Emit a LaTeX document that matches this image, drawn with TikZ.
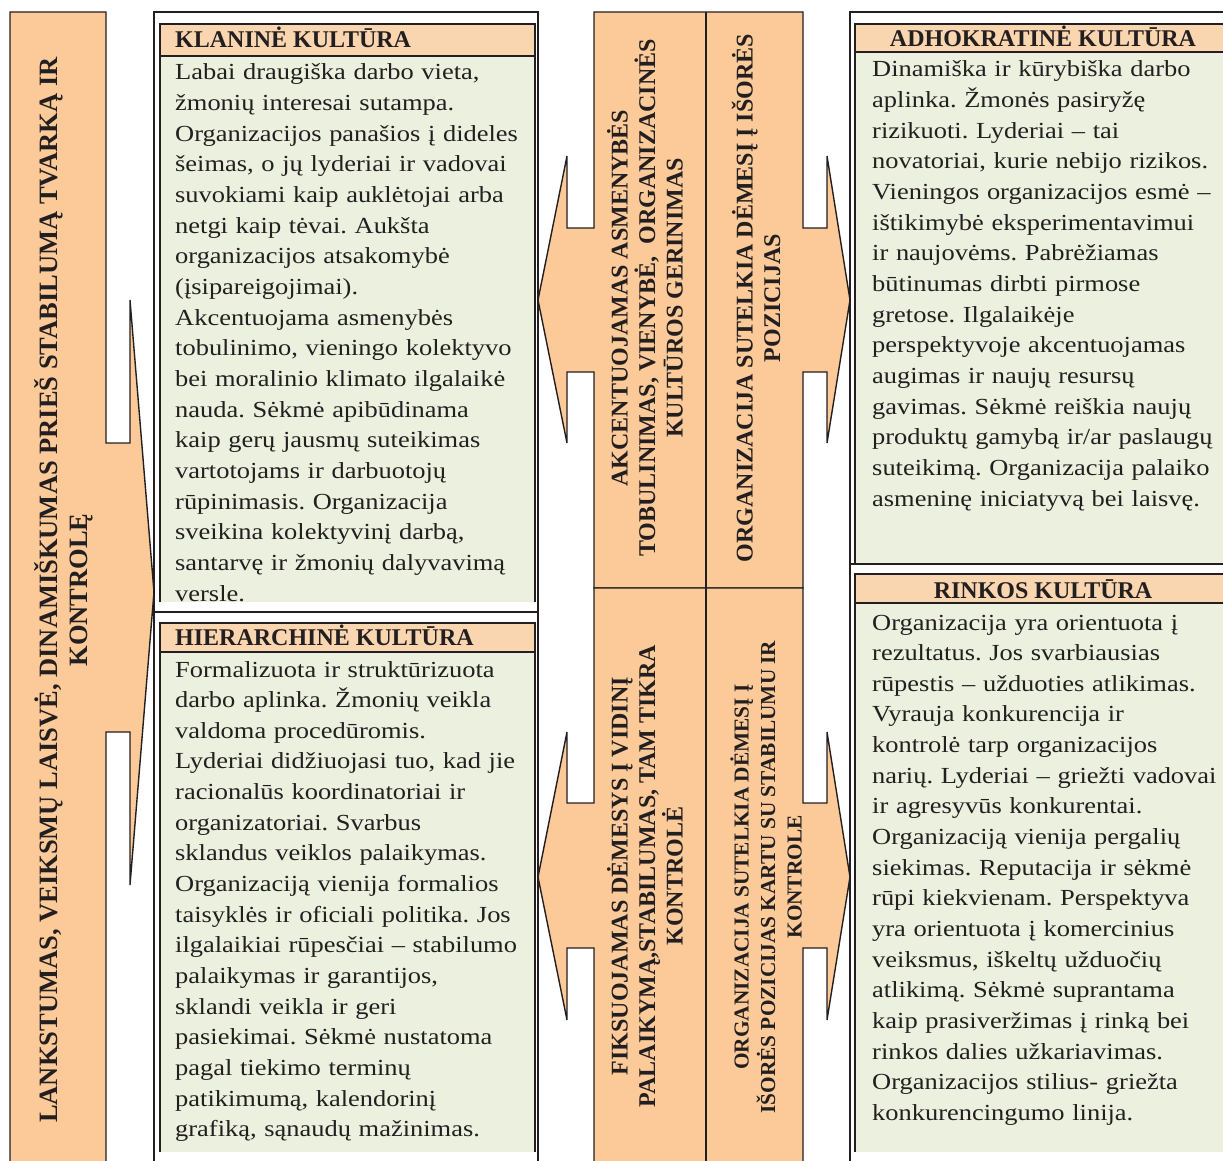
\documentclass[tikz,border=0pt]{standalone}
\usepackage{fontspec}
\setmainfont{Liberation Serif}
\newfontfamily\bodyfont{Liberation Serif}[FakeStretch=1.15]
\frenchspacing
\definecolor{peach}{RGB}{252,202,153}
\definecolor{headfill}{RGB}{250,214,176}
\definecolor{bodyfill}{RGB}{235,241,222}
\definecolor{ink}{RGB}{35,31,32}
\tikzset{
  arrowshape/.style={fill=peach, draw=ink, line width=1.4pt, line join=miter},
  outerframe/.style={draw=ink, line width=1.4pt},
  innerframe/.style={draw=ink, line width=2.4pt},
  bodytext/.style={font=\bodyfont\fontsize{23}{30.65}\selectfont, text=ink, inner sep=0pt,
                   align=left, anchor=base west, text width=370pt},
  headtext/.style={font=\bfseries\fontsize{24}{28}\selectfont, text=ink, inner sep=0pt},
  sidetext/.style={font=\bfseries\fontsize{24}{27.5}\selectfont, text=ink, inner sep=0pt,
                   align=center, rotate=90},
}
\begin{document}
\begin{tikzpicture}[x=1pt,y=-1pt]
\useasboundingbox (0,0) rectangle (1223,1161);
\begin{scope}
\clip (0,0) rectangle (1223,1161);

% left column: arrow pointing right
\draw[arrowshape] (10,12) -- (106,12) -- (106,443) -- (130,443) -- (130,300) -- (154,592)
  -- (130,885) -- (130,732) -- (106,732) -- (106,1180) -- (10,1180) -- cycle;

% centre: two double-headed arrows
\draw[arrowshape] (594,12) -- (803,12) -- (803,228) -- (827,228) -- (827,156) -- (850,300)
  -- (827,443) -- (827,372) -- (803,372) -- (803,588) -- (594,588) -- (594,372) -- (567,372)
  -- (567,443) -- (538,300) -- (567,156) -- (567,228) -- (594,228) -- cycle;
\draw[arrowshape] (594,588) -- (803,588) -- (803,803) -- (827,803) -- (827,732) -- (850,877)
  -- (827,1020) -- (827,948) -- (803,948) -- (803,1180) -- (594,1180) -- (594,948) -- (567,948)
  -- (567,1020) -- (538,877) -- (567,732) -- (567,803) -- (594,803) -- cycle;
\draw[outerframe] (706,12) -- (706,1180);

% left boxes
\fill[bodyfill] (160,56) rectangle (535,602);
\fill[headfill] (160,24) rectangle (535,56);
\draw[innerframe] (160,602) -- (160,24) -- (535,24) -- (535,602);
\draw[innerframe] (160,56) -- (535,56);
\fill[bodyfill] (160,652) rectangle (535,1152);
\fill[headfill] (160,623) rectangle (535,652);
\draw[innerframe] (160,1152) -- (160,623) -- (535,623) -- (535,1152);
\draw[innerframe] (160,652) -- (535,652);
\draw[outerframe] (154,1180) -- (154,12) -- (538,12) -- (538,1180);
\draw[outerframe] (154,612) -- (538,612);

% right boxes
\fill[bodyfill] (855,52) rectangle (1240,563);
\fill[headfill] (855,24) rectangle (1240,52);
\draw[innerframe] (855,563) -- (855,24) -- (1240,24);
\draw[innerframe] (855,52) -- (1240,52);
\fill[bodyfill] (855,603) rectangle (1240,1152);
\fill[headfill] (855,574) rectangle (1240,603);
\draw[innerframe] (855,1152) -- (855,574) -- (1240,574);
\draw[innerframe] (855,603) -- (1240,603);
\draw[outerframe] (850,1180) -- (850,12) -- (1240,12);
\draw[innerframe] (850,564) -- (1240,564);
\end{scope}

% vertical captions
\node[sidetext, font=\bfseries\fontsize{26.5}{30}\selectfont] (lcol) at (64,590)
  {LANKSTUMAS, VEIKSMŲ LAISVĖ, DINAMIŠKUMAS PRIEŠ STABILUMĄ TVARKĄ IR\\KONTROLĘ};
\node[sidetext] (cul) at (645,298)
  {AKCENTUOJAMAS ASMENYBĖS\\TOBULINIMAS, VIENYBĖ,\ \ ORGANIZACINĖS\\KULTŪROS GERINIMAS};
\node[sidetext] (cur) at (756,298)
  {ORGANIZACIJA SUTELKIA DĖMESĮ Į IŠORĖS\\POZICIJAS};
\node[sidetext] (cll) at (645,876)
  {FIKSUOJAMAS DĖMESYS Į VIDINĮ\\PALAIKYMĄ,STABILUMAS, TAM TIKRA\\KONTROLĖ};
\node[sidetext, font=\bfseries\fontsize{21.3}{26.5}\selectfont] (clr) at (766,877)
  {ORGANIZACIJA SUTELKIA DĖMESĮ Į\\IŠORĖS POZICIJAS KARTU SU STABILUMU IR\\KONTROLE};

% headings
\node[headtext, anchor=base west] (klhead) at (175,48) {KLANINĖ KULTŪRA};
\node[headtext, anchor=base west] (hihead) at (175,645) {HIERARCHINĖ KULTŪRA};
\node[headtext, anchor=base] (adhead) at (1043,47) {ADHOKRATINĖ KULTŪRA};
\node[headtext, anchor=base] (rihead) at (1043,598) {RINKOS KULTŪRA};

% body texts
\node[bodytext] (klbody) at (175,80) {Labai draugiška darbo vieta,\\
žmonių interesai sutampa.\\
Organizacijos panašios į dideles\\
šeimas, o jų lyderiai ir vadovai\\
suvokiami kaip auklėtojai arba\\
netgi kaip tėvai. Aukšta\\
organizacijos atsakomybė\\
(įsipareigojimai).\\
Akcentuojama asmenybės\\
tobulinimo, vieningo kolektyvo\\
bei moralinio klimato ilgalaikė\\
nauda. Sėkmė apibūdinama\\
kaip gerų jausmų suteikimas\\
vartotojams ir darbuotojų\\
rūpinimasis. Organizacija\\
sveikina kolektyvinį darbą,\\
santarvę ir žmonių dalyvavimą\\
versle.};

\node[bodytext] (hibody) at (175,677) {Formalizuota ir struktūrizuota\\
darbo aplinka. Žmonių veikla\\
valdoma procedūromis.\\
Lyderiai didžiuojasi tuo, kad jie\\
racionalūs koordinatoriai ir\\
organizatoriai. Svarbus\\
sklandus veiklos palaikymas.\\
Organizaciją vienija formalios\\
taisyklės ir oficiali politika. Jos\\
ilgalaikiai rūpesčiai – stabilumo\\
palaikymas ir garantijos,\\
sklandi veikla ir geri\\
pasiekimai. Sėkmė nustatoma\\
pagal tiekimo terminų\\
patikimumą, kalendorinį\\
grafiką, sąnaudų mažinimas.};

\node[bodytext] (adbody) at (872,77) {Dinamiška ir kūrybiška darbo\\
aplinka. Žmonės pasiryžę\\
rizikuoti. Lyderiai – tai\\
novatoriai, kurie nebijo rizikos.\\
Vieningos organizacijos esmė –\\
ištikimybė eksperimentavimui\\
ir naujovėms. Pabrėžiamas\\
būtinumas dirbti pirmose\\
gretose. Ilgalaikėje\\
perspektyvoje akcentuojamas\\
augimas ir naujų resursų\\
gavimas. Sėkmė reiškia naujų\\
produktų gamybą ir/ar paslaugų\\
suteikimą. Organizacija palaiko\\
asmeninę iniciatyvą bei laisvę.};

\node[bodytext] (ribody) at (872,630) {Organizacija yra orientuota į\\
rezultatus. Jos svarbiausias\\
rūpestis – užduoties atlikimas.\\
Vyrauja konkurencija ir\\
kontrolė tarp organizacijos\\
narių. Lyderiai – griežti vadovai\\
ir agresyvūs konkurentai.\\
Organizaciją vienija pergalių\\
siekimas. Reputacija ir sėkmė\\
rūpi kiekvienam. Perspektyva\\
yra orientuota į komercinius\\
veiksmus, iškeltų užduočių\\
atlikimą. Sėkmė suprantama\\
kaip prasiveržimas į rinką bei\\
rinkos dalies užkariavimas.\\
Organizacijos stilius- griežta\\
konkurencingumo linija.};
\end{tikzpicture}
\end{document}
